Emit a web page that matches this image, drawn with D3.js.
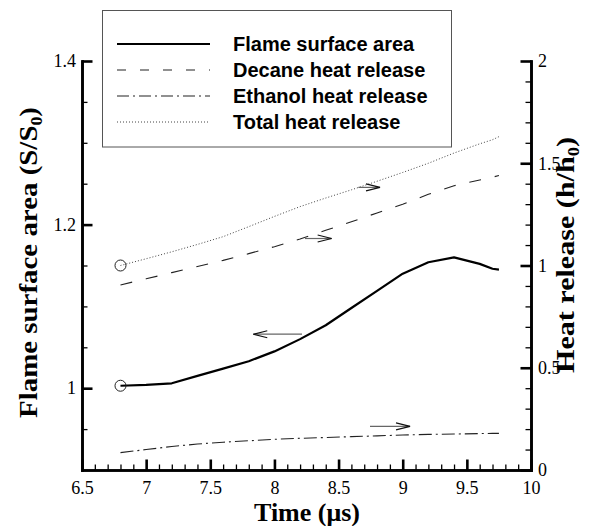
<!DOCTYPE html>
<html>
<head>
<meta charset="utf-8">
<script src="https://cdn.jsdelivr.net/npm/d3@7"></script>
<style>
  html, body { margin: 0; padding: 0; background: #fff; }
  svg { display: block; }
</style>
</head>
<body>
<svg id="chart" width="599" height="526"></svg>
<script>
// ---- data ----
const times       = [6.8, 7.0, 7.2, 7.4, 7.6, 7.8, 8.0, 8.2, 8.4, 8.6, 8.8, 9.0, 9.2, 9.4, 9.6, 9.7, 9.75];
const flameArea   = [1.003, 1.004, 1.006, 1.015, 1.024, 1.033, 1.045, 1.060, 1.077, 1.098, 1.119, 1.140, 1.154, 1.160, 1.152, 1.146, 1.145];
const decaneHeat  = [0.905, 0.935, 0.965, 0.995, 1.025, 1.058, 1.092, 1.130, 1.172, 1.214, 1.257, 1.300, 1.348, 1.390, 1.418, 1.432, 1.440];
const ethanolHeat = [0.085, 0.100, 0.115, 0.127, 0.136, 0.143, 0.150, 0.155, 0.159, 0.163, 0.167, 0.171, 0.174, 0.176, 0.178, 0.179, 0.179];
const totalHeat   = [1.000, 1.033, 1.067, 1.103, 1.141, 1.190, 1.240, 1.288, 1.330, 1.370, 1.412, 1.455, 1.500, 1.550, 1.595, 1.615, 1.630];

const xTicks       = [6.5, 7, 7.5, 8, 8.5, 9, 9.5, 10];
const xMinorTicks  = d3.range(6.6, 10, 0.1).map(v => +v.toFixed(2)).filter(v => Math.abs(v * 2 - Math.round(v * 2)) > 1e-6);
const leftTicks    = [1, 1.2, 1.4];
const leftMinor    = [0.95, 1.05, 1.1, 1.15, 1.25, 1.3, 1.35];
const rightTicks   = [0, 0.5, 1, 1.5, 2];
const rightMinor   = [0.1, 0.2, 0.3, 0.4, 0.6, 0.7, 0.8, 0.9, 1.1, 1.2, 1.3, 1.4, 1.6, 1.7, 1.8, 1.9];

const legendLabels = ["Flame surface area", "Decane heat release", "Ethanol heat release", "Total heat release"];
const xTitle = "Time (\u03bcs)";

// annotation arrows: [tail t, head t, value, axis]
const arrows = [
  [8.215, 7.835, 1.066, "left"],
  [8.238, 8.446, 1.132, "right"],
  [8.654, 8.823, 1.382, "right"],
  [8.745, 9.057, 0.213, "right"]
];

// ---- layout ----
const svg = d3.select("#chart");
const L = 82, R = 531, T = 61, B = 470;
const x  = d3.scaleLinear().domain([6.5, 10]).range([L, R]);
const yL = d3.scaleLinear().domain([0.9, 1.4]).range([B, T]);
const yR = d3.scaleLinear().domain([0, 2]).range([B, T]);
const fmt = d3.format("~g");
const serif = "'Liberation Serif', 'Times New Roman', serif";
const sans = "'Liberation Sans', Arial, sans-serif";

// ---- curves ----
const rows = times.map((t, i) => ({t, f: flameArea[i], d: decaneHeat[i], e: ethanolHeat[i], h: totalHeat[i]}));
const lineL = key => d3.line().x(r => x(r.t)).y(r => yL(r[key]));
const lineR = key => d3.line().x(r => x(r.t)).y(r => yR(r[key]));

const curves = [
  {gen: lineR("h"), stroke: "#444", width: 1, dash: "1,2"},
  {gen: lineR("d"), stroke: "#222", width: 1.1, dash: "12,14"},
  {gen: lineR("e"), stroke: "#222", width: 1.1, dash: "13,4,2,4"},
  {gen: lineL("f"), stroke: "#000", width: 2.2, dash: null}
];
curves.forEach(c => {
  svg.append("path").datum(rows).attr("d", c.gen)
    .attr("fill", "none").attr("stroke", c.stroke).attr("stroke-width", c.width)
    .attr("stroke-dasharray", c.dash).attr("stroke-linejoin", "round");
});

// start markers
svg.append("circle").attr("cx", x(times[0])).attr("cy", yL(flameArea[0])).attr("r", 5.5)
  .attr("fill", "none").attr("stroke", "#222").attr("stroke-width", 1);
svg.append("circle").attr("cx", x(times[0])).attr("cy", yR(totalHeat[0])).attr("r", 5.5)
  .attr("fill", "none").attr("stroke", "#222").attr("stroke-width", 1);

// arrows
arrows.forEach(([t0, t1, v, ax]) => {
  const ys = ax === "left" ? yL : yR;
  const x0 = x(t0), x1 = x(t1), yy = ys(v);
  const dir = Math.sign(x1 - x0);
  svg.append("line").attr("x1", x0).attr("y1", yy).attr("x2", x1).attr("y2", yy)
    .attr("stroke", "#666").attr("stroke-width", 1.2);
  svg.append("path")
    .attr("d", `M${x1 - dir * 14},${yy - 3.5}L${x1},${yy}L${x1 - dir * 14},${yy + 3.5}`)
    .attr("fill", "none").attr("stroke", "#111").attr("stroke-width", 1.2);
});

// ---- axes ----
function styleAxis(g, w) {
  g.select(".domain").attr("stroke", "#000").attr("stroke-width", 2.6).attr("stroke-linecap", "square");
  g.selectAll(".tick line").attr("stroke", "#000").attr("stroke-width", w);
  g.selectAll("text").attr("font-family", serif).attr("font-size", 18).attr("fill", "#000");
}
// minor ticks
const gxm = svg.append("g").attr("transform", `translate(0,${B})`)
  .call(d3.axisBottom(x).tickValues(xMinorTicks).tickSize(-5.5).tickSizeOuter(0).tickFormat(""));
styleAxis(gxm, 1.3);
const gyLm = svg.append("g").attr("transform", `translate(${L},0)`)
  .call(d3.axisLeft(yL).tickValues(leftMinor).tickSize(-5.5).tickSizeOuter(0).tickFormat(""));
styleAxis(gyLm, 1.3);
const gyRm = svg.append("g").attr("transform", `translate(${R},0)`)
  .call(d3.axisRight(yR).tickValues(rightMinor).tickSize(-5.5).tickSizeOuter(0).tickFormat(""));
styleAxis(gyRm, 1.3);
// major ticks
const gx = svg.append("g").attr("transform", `translate(0,${B})`)
  .call(d3.axisBottom(x).tickValues(xTicks).tickSize(-10.5).tickSizeOuter(0).tickPadding(11).tickFormat(fmt));
styleAxis(gx, 2.6);
const gyL = svg.append("g").attr("transform", `translate(${L},0)`)
  .call(d3.axisLeft(yL).tickValues(leftTicks).tickSize(-10.5).tickSizeOuter(0).tickPadding(6).tickFormat(fmt));
styleAxis(gyL, 2.6);
const gyR = svg.append("g").attr("transform", `translate(${R},0)`)
  .call(d3.axisRight(yR).tickValues(rightTicks).tickSize(-10.5).tickSizeOuter(0).tickPadding(7).tickFormat(fmt));
styleAxis(gyR, 2.6);

// ---- axis titles ----
svg.append("text").attr("x", 307).attr("y", 521).attr("text-anchor", "middle")
  .attr("font-family", serif).attr("font-weight", "bold").attr("font-size", 26)
  .text(xTitle);

function vTitle(cx, cy, main, sym, len) {
  const t = svg.append("text").attr("transform", `translate(${cx},${cy}) rotate(-90)`)
    .attr("text-anchor", "middle").attr("font-family", serif).attr("font-weight", "bold").attr("font-size", 26)
    .attr("textLength", len).attr("lengthAdjust", "spacingAndGlyphs");
  t.append("tspan").text(main + "(" + sym + "/" + sym);
  t.append("tspan").attr("font-size", 16).attr("dy", 5).text("0");
  t.append("tspan").attr("dy", -5).text(")");
}
vTitle(37, 262.5, "Flame surface area ", "S", 311);
vTitle(574, 255, "Heat release ", "h", 236);

// ---- legend ----
const lg = svg.append("g");
lg.append("rect").attr("x", 102.5).attr("y", 10.5).attr("width", 349).attr("height", 136.5)
  .attr("fill", "#fff").attr("stroke", "#555").attr("stroke-width", 1);
const legendStyles = [
  {stroke: "#000", width: 2.2, dash: null},
  {stroke: "#222", width: 1.1, dash: "9,14"},
  {stroke: "#222", width: 1.1, dash: "12,4,2,4"},
  {stroke: "#444", width: 1, dash: "1,2"}
];
legendLabels.forEach((lab, i) => {
  const yy = 44 + i * 26;
  const s = legendStyles[i];
  lg.append("line").attr("x1", 117).attr("x2", 210).attr("y1", yy).attr("y2", yy)
    .attr("stroke", s.stroke).attr("stroke-width", s.width).attr("stroke-dasharray", s.dash);
  lg.append("text").attr("x", 233).attr("y", yy + 7)
    .attr("font-family", sans).attr("font-weight", "bold").attr("font-size", 20).attr("fill", "#000")
    .text(lab);
});
</script>
</body>
</html>
